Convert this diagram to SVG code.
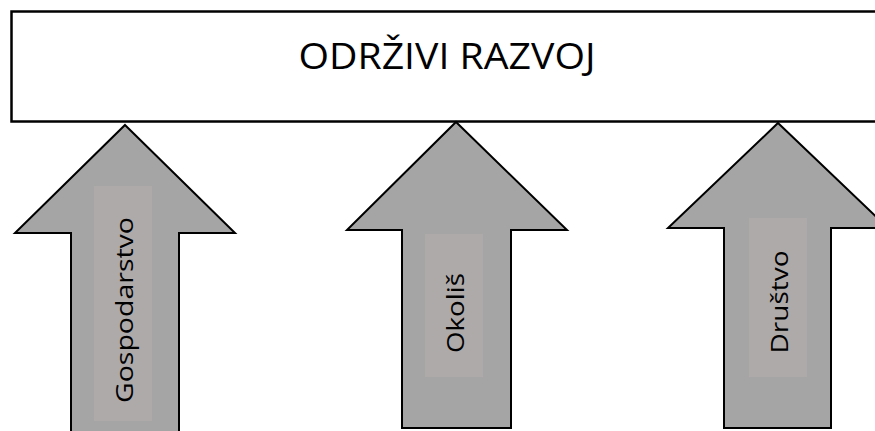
<svg xmlns="http://www.w3.org/2000/svg" width="875" height="431" viewBox="0 0 875 431">
  <style>
    .box { fill: #ffffff; stroke: #000000; stroke-width: 2.5; }
    .arrow { fill: #a5a5a5; stroke: #000000; stroke-width: 2; stroke-linejoin: miter; }
    .label-bg { fill: #aeaaaa; stroke: none; }
    .title { font-family: "Open Sans", "Liberation Sans", sans-serif; font-size: 36px; fill: #000000; text-anchor: middle; }
    .vlabel { font-family: "Open Sans", "Liberation Sans", sans-serif; font-size: 23px; fill: #000000; text-anchor: middle; }
  </style>
  <rect width="875" height="431" fill="#ffffff"/>

  <g id="odrzivi-razvoj">
    <rect class="box" x="11.5" y="11.5" width="875" height="110"/>
    <text class="title" x="447" y="68.5" textLength="297" lengthAdjust="spacingAndGlyphs">ODRŽIVI RAZVOJ</text>
  </g>

  <g id="gospodarstvo">
    <polygon class="arrow" points="125,125 235,233 179,233 179,445 71,445 71,233 15,233"/>
    <rect class="label-bg" x="94" y="186" width="58" height="235"/>
    <text class="vlabel" transform="translate(133,310) rotate(-90)" textLength="186" lengthAdjust="spacingAndGlyphs">Gospodarstvo</text>
  </g>

  <g id="okolis">
    <polygon class="arrow" points="456,122 567,230 511,230 511,428 402,428 402,230 347,230"/>
    <rect class="label-bg" x="425" y="234" width="58" height="143"/>
    <text class="vlabel" transform="translate(464,313) rotate(-90)" textLength="80" lengthAdjust="spacingAndGlyphs">Okoliš</text>
  </g>

  <g id="drustvo">
    <polygon class="arrow" points="778,123 888,228 831,228 831,428 724,428 724,228 668,228"/>
    <rect class="label-bg" x="749" y="218" width="58" height="159"/>
    <text class="vlabel" transform="translate(788,302) rotate(-90)" textLength="103" lengthAdjust="spacingAndGlyphs">Društvo</text>
  </g>

  <g id="connectors"/>
</svg>
